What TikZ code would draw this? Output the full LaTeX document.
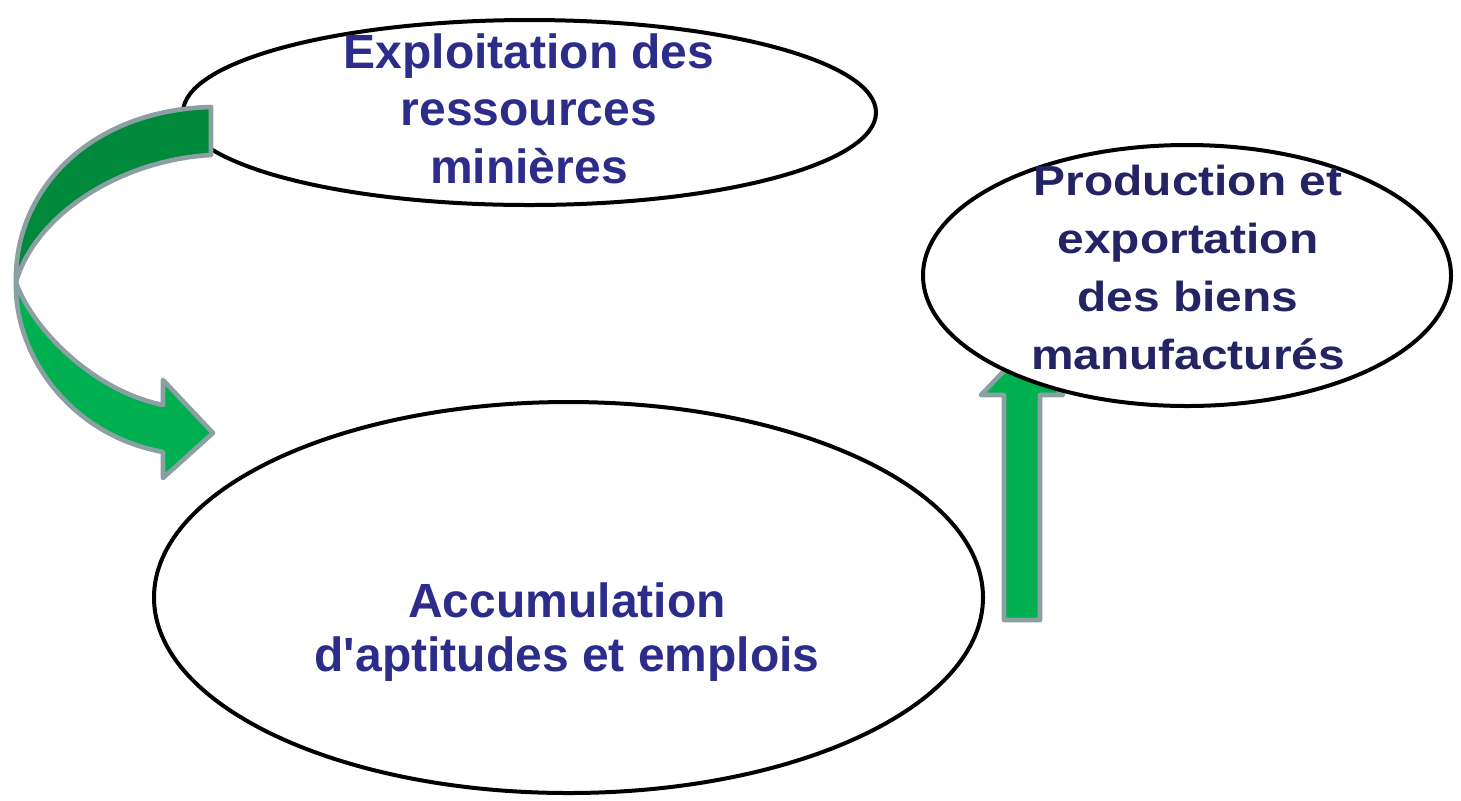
\documentclass[tikz,border=0pt]{standalone}
\usepackage{fontspec}
\setmainfont{Liberation Sans}[Ligatures=TeXOff]
\usetikzlibrary{shapes.geometric}
\definecolor{txtblue}{RGB}{44,44,138}
\definecolor{txtnavy}{RGB}{36,36,100}
\definecolor{darkgreen}{RGB}{0,137,59}
\definecolor{lightgreen}{RGB}{0,176,80}
\definecolor{arrowedge}{RGB}{138,160,163}
\begin{document}
\begin{tikzpicture}[x=0.5pt,y=-0.5pt,
  oval/.style={ellipse, draw=black, line width=2pt, fill=white, inner sep=0pt},
  lbl/.style={font=\fontsize{24}{28.75}\selectfont\bfseries, text=txtblue, align=center, inner sep=0pt},
  blockarrow/.style={draw=arrowedge, line width=2.3pt, line join=round}]
\useasboundingbox (0,0) rectangle (1461,800);

% top ellipse
\node[oval, minimum width=346.5pt, minimum height=92.5pt] (mines) at (529.5,112.5) {};

% curved arrow: front (light) band
\path[blockarrow, fill=lightgreen]
  (16,282) .. controls (14,355) and (70,435) .. (163,452)
  -- (163,478) -- (213,433) -- (163,380) -- (163,405)
  .. controls (90,390) and (30,325) .. (16,282) -- cycle;
% curved arrow: back (dark) band
\path[blockarrow, fill=darkgreen]
  (211,107) -- (211,155)
  .. controls (120,160) and (35,215) .. (16,282)
  .. controls (14,190) and (90,110) .. (211,107) -- cycle;

% bottom ellipse
\node[oval, minimum width=414.5pt, minimum height=195.5pt] (skills) at (568.5,597.5) {};

% up arrow
\path[blockarrow, fill=lightgreen]
  (1004,620) -- (1004,395) -- (981,395) -- (1022,352) -- (1063,395)
  -- (1040,395) -- (1040,620) -- cycle;

% right ellipse
\node[oval, minimum width=264pt, minimum height=130.5pt] (export) at (1187,275.5) {};

% texts
\node[lbl] (minestext) at (529,108.5) {Exploitation des\\ressources\\minières};
\node[lbl, font=\fontsize{24}{27}\selectfont\bfseries] (skillstext) at (567,632) {Accumulation\\d'aptitudes et emplois};
\node[lbl, text=txtnavy, font=\fontsize{21}{29}\selectfont\bfseries, xscale=1.14, transform shape] (exporttext) at (1188,267) {Production et\\exportation\\des biens\\manufacturés};
\end{tikzpicture}
\end{document}
